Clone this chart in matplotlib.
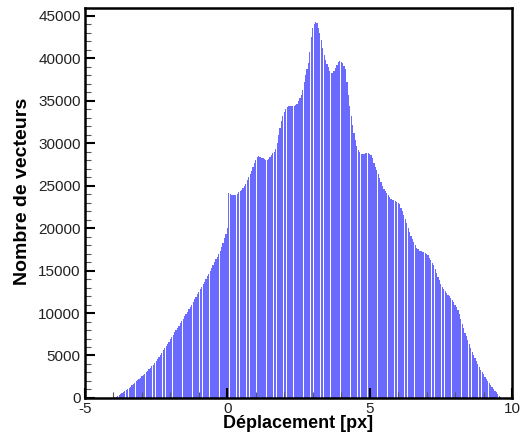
import matplotlib
matplotlib.use("Agg")
import matplotlib.pyplot as plt
import numpy as np
from matplotlib.ticker import MultipleLocator

# Histogram: bin width 0.05 px, first bin centred at -3.95 px
bin_start = -3.95
bin_width = 0.05
counts = [
    60, 150, 250, 360, 470, 580, 700, 820, 950, 1080,
    1210, 1350, 1490, 1640, 1790, 1950, 2110, 2280, 2400, 2560,
    2720, 2880, 3050, 3220, 3390, 3570, 3750, 3940, 4130, 4300,
    4560, 4820, 5080, 5340, 5600, 5860, 6120, 6380, 6640, 6900,
    7160, 7450, 7720, 7990, 8260, 8530, 8800, 9070, 9340, 9610,
    9880, 10150, 10420, 10700, 11000, 11300, 11600, 11900, 12200, 12500,
    12800, 13100, 13400, 13700, 14000, 14300, 14630, 14960, 15300, 15630,
    15960, 16300, 16630, 16960, 17300, 17750, 18250, 18800, 19350, 19950,
    24100, 24000, 23900, 23850, 23850, 23900, 24050, 24200, 24350, 24500,
    24700, 24900, 25200, 25600, 26000, 26400, 26750, 27200, 27650, 28050,
    28350, 28450, 28400, 28300, 28200, 28100, 28050, 28050, 28150, 28350,
    28600, 28850, 29000, 29300, 30000, 30900, 31800, 32600, 33200, 33700,
    34000, 34250, 34350, 34350, 34350, 34350, 34400, 34450, 34550, 34900,
    35300, 35700, 36200, 37200, 38000, 38700, 39400, 40700, 42500, 43600,
    44000, 44200, 44100, 43600, 42900, 42100, 41200, 40400, 39800, 39300,
    38900, 38500, 38300, 38300, 38500, 38800, 39200, 39500, 39700, 39600,
    39400, 39100, 38700, 37200, 35600, 34400, 33200, 32100, 31200, 30400,
    29700, 29200, 28900, 28700, 28700, 28700, 28800, 28800, 28800, 28750,
    28600, 28200, 27700, 27200, 26800, 26400, 25900, 25400, 25000, 24650,
    24350, 24100, 23850, 23650, 23450, 23350, 23250, 23150, 23050, 23000,
    22800, 22400, 21950, 21500, 21100, 20600, 20000, 19500, 19050, 18700,
    18300, 17950, 17700, 17500, 17350, 17250, 17200, 17150, 17100, 17000,
    16800, 16500, 16200, 15900, 15600, 15200, 14700, 14250, 13850, 13450,
    13100, 12800, 12550, 12350, 12150, 11950, 11750, 11550, 11250, 10950,
    10650, 10350, 9850, 9300, 8750, 8200, 7700, 7250, 6800, 6350,
    5900, 5450, 5050, 4650, 4300, 3950, 3650, 3350, 3100, 2800,
    2500, 2250, 2000, 1750, 1550, 1350, 1100, 850, 650, 450,
    250, 80,
]
x_ticks = [-5, 0, 5, 10]
y_ticks = [0, 5000, 10000, 15000, 20000, 25000, 30000, 35000, 40000, 45000]

plt.rcParams['font.family'] = ['Liberation Sans', 'DejaVu Sans']

fig = plt.figure(figsize=(5.23, 4.36), dpi=100)
ax = fig.add_axes([0.1625, 0.0872, 0.8165, 0.8945])

centers = bin_start + bin_width * np.arange(len(counts))
ax.bar(centers, counts, width=bin_width * 0.85, color='#5a5aff',
       edgecolor='none', linewidth=0, alpha=0.9)

ax.set_xlim(-5, 10)
ax.set_ylim(0, 45900)
ax.set_xticks(x_ticks)
ax.set_xticklabels([str(t) for t in x_ticks])
ax.set_yticks(y_ticks)
ax.set_yticklabels([str(t) for t in y_ticks])
ax.xaxis.set_minor_locator(MultipleLocator(1))
ax.yaxis.set_minor_locator(MultipleLocator(1000))

ax.tick_params(axis='both', which='major', direction='in', length=7,
               width=1.5, labelsize=11, colors='black', pad=3)
ax.tick_params(axis='both', which='minor', direction='in', length=4,
               width=0.8, colors='#555555')
ax.tick_params(top=False, right=False, which='both')
for lbl in ax.get_xticklabels() + ax.get_yticklabels():
    lbl.set_color('#222222')

for s in ax.spines.values():
    s.set_linewidth(1.8)
    s.set_color('black')

ax.set_xlabel('Déplacement [px]', fontsize=13, fontweight='bold', labelpad=-1)
ax.set_ylabel('Nombre de vecteurs', fontsize=14, fontweight='bold')
ax.yaxis.set_label_coords(-0.126, 0.53)

fig.savefig('out.png', dpi=100)
